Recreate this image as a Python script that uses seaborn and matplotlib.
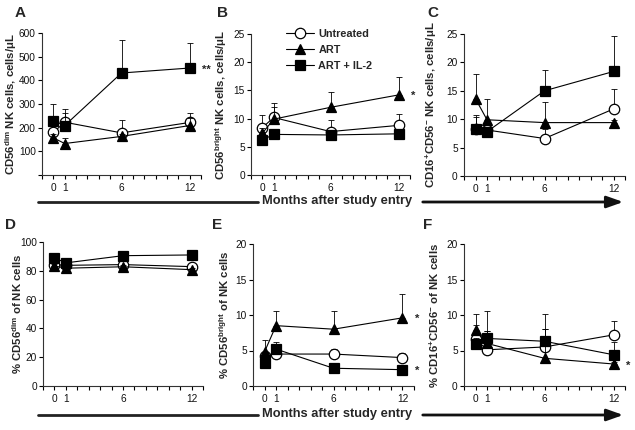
import numpy as np
import pandas as pd
import seaborn as sns
import matplotlib
matplotlib.use("Agg")
import matplotlib.pyplot as plt
from matplotlib.lines import Line2D
from matplotlib.patches import FancyArrowPatch

# ---------------- data ----------------
months = [0, 1, 6, 12]
groups = ["Untreated", "ART", "ART + IL-2"]

# A: CD56dim NK cells, cells/uL
a_untreated = [180, 223, 178, 222]
a_untreated_err = [30, 40, 55, 41]
a_art = [157, 133, 163, 209]
a_art_err = [15, 24, 10, 30]
a_il2 = [230, 209, 431, 452]
a_il2_err = [70, 68, 139, 106]

# B: CD56bright NK cells, cells/uL
b_untreated = [8.4, 10.2, 7.7, 8.8]
b_untreated_err = [2.3, 1.9, 2.0, 2.1]
b_art = [7.4, 9.9, 12.0, 14.2]
b_art_err = [1.0, 2.9, 2.8, 3.1]
b_il2 = [6.2, 7.2, 7.1, 7.3]
b_il2_err = [0.5, 0.5, 0.5, 0.5]

# C: CD16+CD56- NK cells, cells/uL
c_untreated = [8.2, 8.1, 6.6, 11.8]
c_untreated_err = [2.2, 0.5, 1.6, 3.6]
c_art = [13.6, 9.9, 9.4, 9.4]
c_art_err = [4.3, 3.7, 3.7, 0.4]
c_il2 = [8.2, 7.8, 15.0, 18.4]
c_il2_err = [2.6, 0.5, 3.7, 6.2]

# D: % CD56dim of NK cells
d_untreated = [84.3, 83.8, 84.3, 82.9]
d_untreated_err = [1, 1, 1, 1]
d_art = [83.4, 81.8, 82.8, 80.8]
d_art_err = [1, 1, 1, 1]
d_il2 = [89.0, 85.5, 90.5, 91.0]
d_il2_err = [1, 1, 1, 1]

# E: % CD56bright of NK cells
e_untreated = [4.2, 4.5, 4.5, 4.0]
e_untreated_err = [0.5, 1.3, 0.7, 0.6]
e_art = [4.8, 8.5, 8.0, 9.6]
e_art_err = [1.7, 2.0, 2.6, 3.4]
e_il2 = [3.2, 5.2, 2.5, 2.3]
e_il2_err = [0.4, 1.0, 0.7, 0.3]

# F: % CD16+CD56- of NK cells
f_untreated = [6.6, 5.1, 5.5, 7.2]
f_untreated_err = [2.0, 2.6, 2.5, 2.0]
f_art = [7.9, 6.0, 3.9, 3.1]
f_art_err = [2.2, 1.7, 4.1, 0.3]
f_il2 = [5.9, 6.7, 6.3, 4.4]
f_il2_err = [0.8, 3.9, 3.8, 1.8]

panel_letters = ["A", "B", "C", "D", "E", "F"]
ylabels = [
    r"CD56$^{\mathbf{dim}}$ NK cells, cells/μL",
    r"CD56$^{\mathbf{bright}}$ NK cells, cells/μL",
    r"CD16$^{\mathbf{+}}$CD56$^{\mathbf{-}}$ NK cells, cells/μL",
    r"% CD56$^{\mathbf{dim}}$ of NK cells",
    r"% CD56$^{\mathbf{bright}}$ of NK cells",
    r"% CD16$^{\mathbf{+}}$CD56$^{\mathbf{-}}$ of NK cells",
]
ylims = [600, 25, 25, 100, 20, 20]
ysteps = [100, 5, 5, 20, 5, 5]
xlabel = "Months after study entry"

panels = [
    (a_untreated, a_untreated_err, a_art, a_art_err, a_il2, a_il2_err),
    (b_untreated, b_untreated_err, b_art, b_art_err, b_il2, b_il2_err),
    (c_untreated, c_untreated_err, c_art, c_art_err, c_il2, c_il2_err),
    (d_untreated, d_untreated_err, d_art, d_art_err, d_il2, d_il2_err),
    (e_untreated, e_untreated_err, e_art, e_art_err, e_il2, e_il2_err),
    (f_untreated, f_untreated_err, f_art, f_art_err, f_il2, f_il2_err),
]
# significance stars: (panel index, group index, text)
stars = [(0, 2, "**"), (1, 1, "*"), (4, 1, "*"), (4, 2, "*"), (5, 1, "*")]

# ---------------- style ----------------
sns.set_style("ticks")
plt.rcParams["font.family"] = ["Liberation Sans", "DejaVu Sans"]
plt.rcParams["mathtext.fontset"] = "custom"
plt.rcParams["mathtext.rm"] = "Liberation Sans"
plt.rcParams["mathtext.bf"] = "Liberation Sans:bold"
plt.rcParams["mathtext.it"] = "Liberation Sans:italic"

W, H = 635, 430
fig = plt.figure(figsize=(W / 100, H / 100), dpi=100)

# axes boxes in pixels: (left, top, right, bottom)
boxes = [
    (42, 33, 201, 175),
    (251, 34, 410, 175),
    (464, 34, 625, 176),
    (43, 242, 203, 386),
    (253, 244, 414, 386),
    (464, 244, 625, 386),
]
label_x = [19.5, 229, 439, 24, 231, 441]
letter_pos = [(20, 13), (223, 13), (433, 13), (10, 225), (217, 225), (428, 225)]

styles = [
    dict(marker="o", mfc="white", mec="black", ms=7.5, mew=0.9),
    dict(marker="^", mfc="black", mec="black", ms=6.5, mew=0.9),
    dict(marker="s", mfc="black", mec="black", ms=7.5, mew=0.9),
]
zorders = [3, 4, 5]

axes = []
for i, (l, t, r, b) in enumerate(boxes):
    ax = fig.add_axes([l / W, 1 - b / H, (r - l) / W, (b - t) / H])
    axes.append(ax)
    data = panels[i]
    for g in range(3):
        vals = data[2 * g]
        errs = data[2 * g + 1]
        ax.errorbar(months, vals, yerr=[np.zeros(len(errs)), errs], fmt="none",
                    ecolor="black", elinewidth=0.6, capsize=2.2, capthick=0.6,
                    zorder=zorders[g] - 0.5)
        df = pd.DataFrame({"month": months, "value": vals})
        sns.lineplot(data=df, x="month", y="value", ax=ax, color="black",
                     lw=0.8, label=groups[g], legend=False, zorder=zorders[g],
                     **styles[g])
    ax.set_xlim(-1.0, 13.0)
    ax.set_ylim(0, ylims[i])
    ax.set_xticks(months)
    ax.set_xticklabels([str(m) for m in months])
    ax.set_xticks(range(-1, 14), minor=True)
    yt = np.arange(0, ylims[i] + 0.001, ysteps[i])
    ax.set_yticks(yt)
    ylabs = [f"{v:g}" for v in yt]
    if i == 0:
        ylabs[0] = ""
    ax.set_yticklabels(ylabs)
    ax.tick_params(axis="both", which="both", direction="out", length=3,
                   width=0.8, labelsize=7.3, color="black", labelcolor="#111111")
    ax.tick_params(axis="x", pad=3)
    ax.tick_params(axis="y", pad=1.5)
    sns.despine(ax=ax)
    for s in ["left", "bottom"]:
        ax.spines[s].set_linewidth(0.8)
        ax.spines[s].set_color("#333333")
    ax.set_xlabel("")
    ax.set_ylabel(ylabels[i], fontsize=8.2, fontweight="bold")
    ax.yaxis.set_label_coords((label_x[i] - l) / (r - l), 0.5)
    lx, ly = letter_pos[i]
    fig.text(lx / W, 1 - ly / H, panel_letters[i], fontsize=11,
             fontweight="bold", ha="center", va="center")

for (pi, g, txt) in stars:
    ax = axes[pi]
    yv = panels[pi][2 * g][-1]
    ax.annotate(txt, xy=(12, yv), xytext=(9, -1), textcoords="offset points",
                ha="left", va="center", fontsize=8, fontweight="bold")

# legend in panel B
handles = [Line2D([0], [0], color="black", lw=0.8, **styles[g]) for g in range(3)]
fig.legend(handles, groups, loc="upper left",
           bbox_to_anchor=(286 / W, 1 - 29 / H), frameon=False,
           prop=dict(size=7.8, weight="bold"), handlelength=2.6,
           handletextpad=0.4, labelspacing=0.55, borderpad=0, borderaxespad=0)

# timeline arrows with label
for ly in [202, 415]:
    yf = 1 - ly / H
    fig.add_artist(Line2D([38 / W, 258 / W], [yf, yf], color="#222222", lw=2.0,
                          transform=fig.transFigure))
    arr = FancyArrowPatch((420 / W, yf), (626 / W, yf), transform=fig.transFigure,
                          arrowstyle="-|>,head_length=4.5,head_width=1.6",
                          color="#111111", lw=2.0, mutation_scale=2.2)
    fig.add_artist(arr)
    fig.text(337 / W, 1 - (ly - 1) / H, xlabel, fontsize=9.3, fontweight="bold",
             ha="center", va="center")

fig.savefig("out.png", dpi=100)
